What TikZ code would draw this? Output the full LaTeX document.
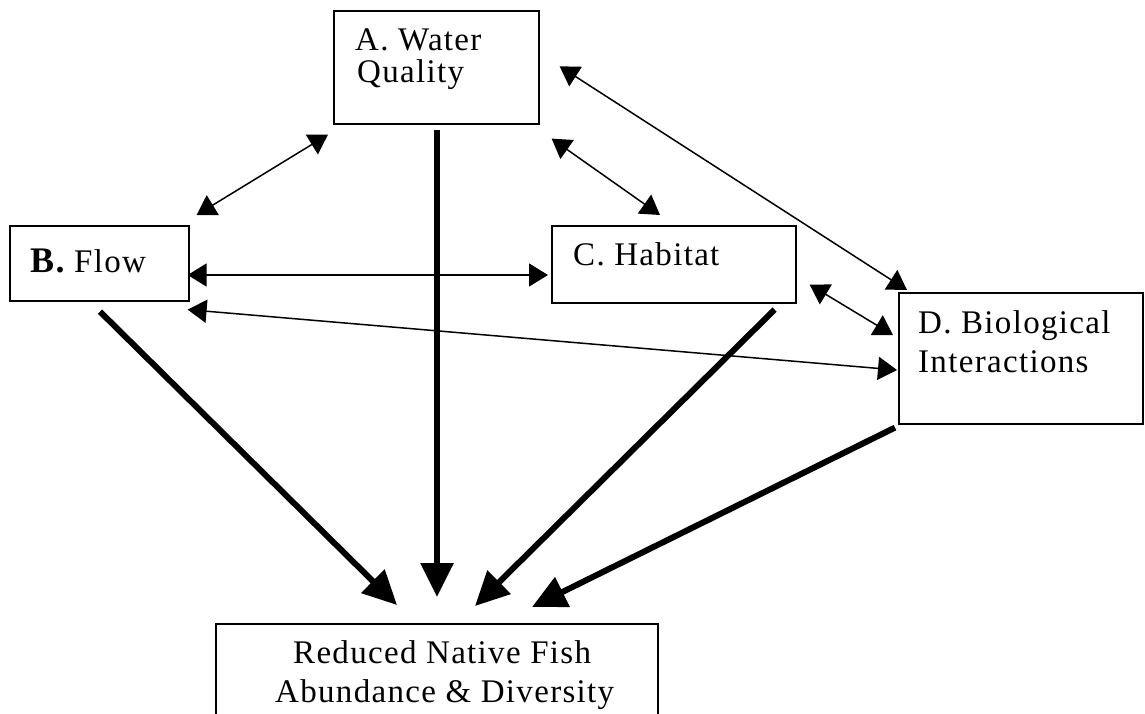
\documentclass[tikz,border=0pt]{standalone}
\usepackage{fontspec}
\setmainfont{Liberation Serif}
\newfontfamily\lbl[LetterSpace=4]{Liberation Serif}
\usetikzlibrary{arrows.meta}
\begin{document}
\begin{tikzpicture}[x=1pt,y=-1pt,
  box/.style={draw,line width=1.6pt,inner sep=0pt,anchor=north west},
  txt/.style={anchor=base west,inner sep=0pt,font=\lbl\fontsize{33}{36}\selectfont},
  thinarr/.style={line width=1.5pt,{Triangle[length=19pt,width=23pt]}-{Triangle[length=19pt,width=23pt]}},
  thickarr/.style={line width=6pt,-{Triangle[length=34pt,width=32pt]}}]
\useasboundingbox (0,0) rectangle (1145,713);
\clip (0,0) rectangle (1145,713);
% boxes
\node[box,minimum width=205pt,minimum height=113pt] (A) at (333,10) {};
\node[box,minimum width=179pt,minimum height=75pt] (B) at (9,225) {};
\node[box,minimum width=244pt,minimum height=77pt] (C) at (551,225) {};
\node[box,minimum width=244pt,minimum height=131pt] (D) at (898,292) {};
\node[box,minimum width=442pt,minimum height=130pt] (E) at (215,623) {};
% texts
\node[txt] (ta1) at (355,50) {A. Water};
\node[txt] (ta2) at (357,82) {Quality};
\node[txt] (tb) at (30,272) {{\fontsize{36}{38}\selectfont\bfseries B.}~Flow};
\node[txt] (tc) at (573,265) {C. Habitat};
\node[txt] (td1) at (918,333) {D. Biological};
\node[txt] (td2) at (918,372) {Interactions};
\node[txt] (te1) at (293,663) {Reduced Native Fish};
\node[txt] (te2) at (275,702) {Abundance \& Diversity};
% thin double arrows
\draw[thinarr] ([shift={(7,-10)}]B.north east) -- ([shift={(-5,10)}]A.south west);
\draw[thinarr] ([shift={(12,14)}]A.south east) -- ([shift={(109,-10)}]C.north west);
\draw[thinarr] ([shift={(20,-1)}]A.east) -- ([shift={(9,-2)}]D.north west);
\draw[thinarr] ([shift={(13,-19)}]C.south east) -- ([shift={(-5,43)}]D.north west);
\draw[thinarr] ([shift={(-2,50)}]B.north east) -- ([shift={(-3,50)}]C.north west);
\draw[thinarr] ([shift={(-2,8)}]B.south east) -- ([shift={(-1,78)}]D.north west);
% thick arrows
\draw[thickarr] ([shift={(91,10)}]B.south west) -- ([shift={(182,-18)}]E.north west);
\draw[thickarr] ([shift={(104,5)}]A.south west) -- ([shift={(222,-26)}]E.north west);
\draw[thickarr] ([shift={(-22,6)}]C.south east) -- ([shift={(260,-17)}]E.north west);
\draw[thickarr] ([shift={(-3,3)}]D.south west) -- ([shift={(317,-16)}]E.north west);
\end{tikzpicture}
\end{document}
